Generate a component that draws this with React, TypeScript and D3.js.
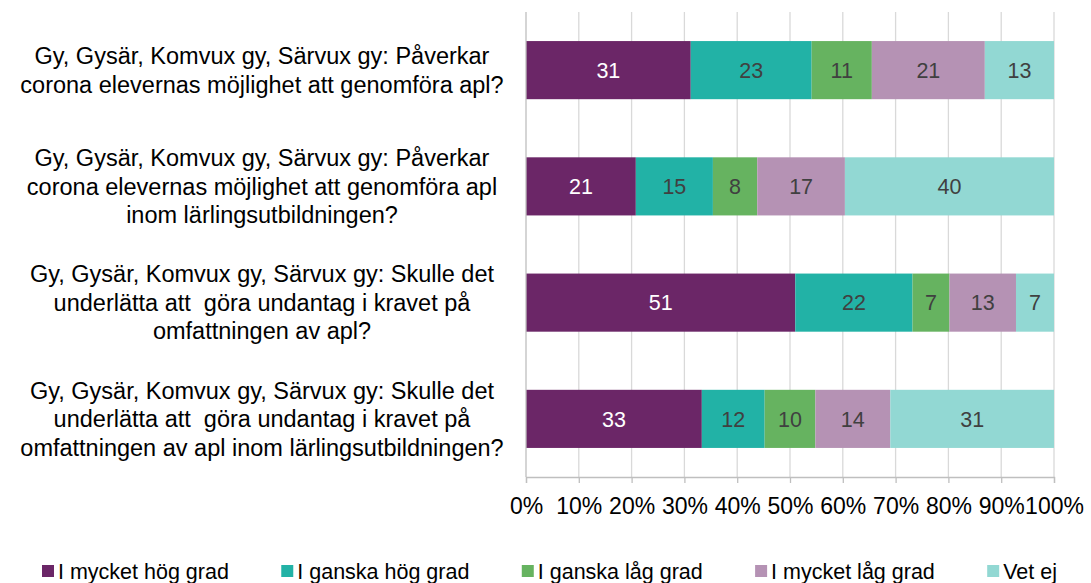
import React, { useEffect, useRef } from "react";
import * as d3 from "d3";

const categories = [
  "Gy, Gysär, Komvux gy, Särvux gy: Påverkar corona elevernas möjlighet att genomföra apl?",
  "Gy, Gysär, Komvux gy, Särvux gy: Påverkar corona elevernas möjlighet att genomföra apl inom lärlingsutbildningen?",
  "Gy, Gysär, Komvux gy, Särvux gy: Skulle det underlätta att  göra undantag i kravet på omfattningen av apl?",
  "Gy, Gysär, Komvux gy, Särvux gy: Skulle det underlätta att  göra undantag i kravet på omfattningen av apl inom lärlingsutbildningen?",
];

// wrapped lines as Excel shows them
const categoryLines = [
  ["Gy, Gysär, Komvux gy, Särvux gy: Påverkar", "corona elevernas möjlighet att genomföra apl?"],
  ["Gy, Gysär, Komvux gy, Särvux gy: Påverkar", "corona elevernas möjlighet att genomföra apl", "inom lärlingsutbildningen?"],
  ["Gy, Gysär, Komvux gy, Särvux gy: Skulle det", "underlätta att  göra undantag i kravet på", "omfattningen av apl?"],
  ["Gy, Gysär, Komvux gy, Särvux gy: Skulle det", "underlätta att  göra undantag i kravet på", "omfattningen av apl inom lärlingsutbildningen?"],
];

const seriesNames = [
  "I mycket hög grad",
  "I ganska hög grad",
  "I ganska låg grad",
  "I mycket låg grad",
  "Vet ej",
];

const mycketHog = [31.2, 20.8, 51.0, 33.3];
const ganskaHog = [22.9, 14.6, 22.2, 11.9];
const ganskaLag = [11.4, 8.4, 7.0, 9.6];
const mycketLag = [21.4, 16.6, 12.6, 14.2];
const vetEj = [13.1, 39.6, 7.2, 31.0];

const tickValues = [0, 10, 20, 30, 40, 50, 60, 70, 80, 90, 100];

const colors = ["#6B2667", "#22B2A6", "#66B360", "#B592B4", "#92D8D3"];
const labelColors = ["#ffffff", "#404040", "#404040", "#404040", "#404040"];

const FONT = "'Liberation Sans', Arial, sans-serif";

const App = () => {
  const svgRef = useRef<SVGSVGElement>(null);

  useEffect(() => {
    const width = 1091;
    const height = 583;
    const svg = d3.select(svgRef.current);
    svg.selectAll("*").remove();
    svg.attr("width", width).attr("height", height).style("font-family", FONT);

    const table = categories.map((c, i) => ({
      category: c,
      [seriesNames[0]]: mycketHog[i],
      [seriesNames[1]]: ganskaHog[i],
      [seriesNames[2]]: ganskaLag[i],
      [seriesNames[3]]: mycketLag[i],
      [seriesNames[4]]: vetEj[i],
    }));

    const stacked = d3.stack<any>().keys(seriesNames)(table);

    const x = d3.scaleLinear().domain([0, 100]).range([526, 1054]);
    const y = d3
      .scaleBand()
      .domain(categories)
      .range([12, 477])
      .paddingInner(0.5)
      .paddingOuter(0.25);

    // gridlines
    svg
      .append("g")
      .selectAll("line")
      .data(tickValues.slice(1))
      .enter()
      .append("line")
      .attr("x1", (d) => x(d))
      .attr("x2", (d) => x(d))
      .attr("y1", 12)
      .attr("y2", 477)
      .attr("stroke", "#D9D9D9")
      .attr("stroke-width", 1.3);

    // bars
    const groups = svg
      .append("g")
      .selectAll("g")
      .data(stacked)
      .enter()
      .append("g")
      .attr("fill", (d, i) => colors[i]);

    groups
      .selectAll("rect")
      .data((d) => d)
      .enter()
      .append("rect")
      .attr("x", (d) => x(d[0]))
      .attr("width", (d) => x(d[1]) - x(d[0]))
      .attr("y", (d) => y(d.data.category)!)
      .attr("height", y.bandwidth());

    groups.each(function (s, si) {
      d3.select(this)
        .selectAll("text")
        .data(s)
        .enter()
        .append("text")
        .attr("x", (d) => (x(d[0]) + x(d[1])) / 2)
        .attr("y", (d) => y(d.data.category)! + y.bandwidth() / 2)
        .attr("dy", "0.36em")
        .attr("text-anchor", "middle")
        .attr("fill", labelColors[si])
        .style("font-size", "21.5px")
        .text((d) => Math.round(d[1] - d[0]));
    });

    // axes
    const axisG = svg.append("g").attr("transform", "translate(0,477)");
    axisG.call(d3.axisBottom(x).tickValues(tickValues).tickSize(6).tickFormat((d) => `${d}%`));
    axisG.select(".domain").attr("stroke", "#BFBFBF").attr("stroke-width", 1.3);
    axisG.selectAll(".tick line").attr("stroke", "#BFBFBF").attr("stroke-width", 1.3);
    axisG
      .selectAll(".tick text")
      .attr("fill", "#000")
      .attr("y", 37)
      .attr("dy", "0")
      .style("font-size", "23px")
      .style("font-family", FONT);

    svg
      .append("line")
      .attr("x1", 526)
      .attr("x2", 526)
      .attr("y1", 12)
      .attr("y2", 477)
      .attr("stroke", "#BFBFBF")
      .attr("stroke-width", 1.3);

    // category labels
    const lineH = 28.5;
    categories.forEach((c, i) => {
      const lines = categoryLines[i];
      const cy = y(c)! + y.bandwidth() / 2;
      const t = svg
        .append("text")
        .attr("text-anchor", "middle")
        .attr("fill", "#000")
        .style("font-size", "23.5px")
        .style("white-space", "pre");
      lines.forEach((l, j) => {
        t.append("tspan")
          .attr("x", 262)
          .attr("y", cy + (j - (lines.length - 1) / 2) * lineH)
          .attr("dy", "0.35em")
          .text(l);
      });
    });

    // legend, spread between the left and right edges with equal gaps
    const legend = svg.append("g").attr("transform", "translate(0,571)");
    const items = legend
      .selectAll("g")
      .data(seriesNames)
      .enter()
      .append("g");
    items
      .append("rect")
      .attr("width", 12)
      .attr("height", 12)
      .attr("y", -6)
      .attr("fill", (d, i) => colors[i]);
    const labels = items
      .append("text")
      .attr("x", 16)
      .attr("dy", "0.35em")
      .style("font-size", "21.5px")
      .text((d) => d);
    const widths = labels.nodes().map((n) => 16 + (n as SVGTextElement).getComputedTextLength());
    const left = 42;
    const right = 1057;
    const gap = (right - left - d3.sum(widths)) / (widths.length - 1);
    let cur = left;
    const legendX = widths.map((w) => {
      const p = cur;
      cur += w + gap;
      return p;
    });
    items.attr("transform", (d, i) => `translate(${legendX[i]},0)`);
  }, []);

  return (
    <svg
      ref={svgRef}
      style={{ position: "absolute", left: 0, top: 0, display: "block" }}
    ></svg>
  );
};

export default App;
